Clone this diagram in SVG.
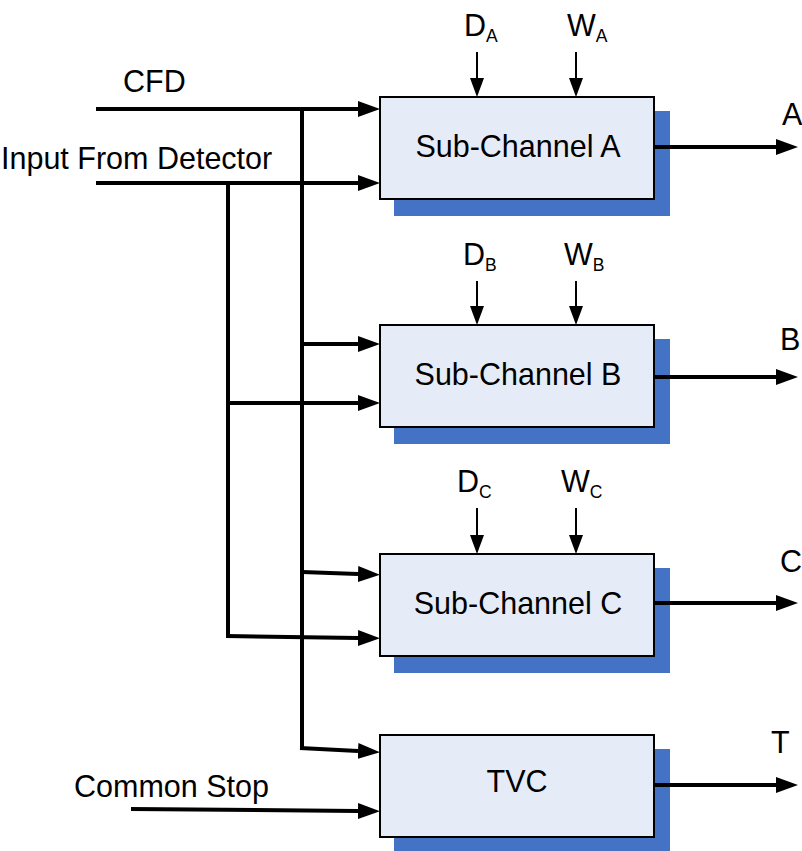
<svg xmlns="http://www.w3.org/2000/svg" width="802" height="851" viewBox="0 0 802 851">
  <style>
    text { font-family: "Liberation Sans", Arial, sans-serif; font-size: 30.5px; fill: #000; }
    .sub { font-size: 17.5px; }
    .box { fill: #E6ECF7; stroke: #000; stroke-width: 2; }
    .shadow { fill: #4472C4; }
    .wire { fill: none; stroke: #000; stroke-width: 4; }
    .thin { fill: none; stroke: #000; stroke-width: 2; }
    .arrow { marker-end: url(#head); }
    .parm { marker-end: url(#headSmall); }
  </style>
  <defs>
    <marker id="head" markerUnits="userSpaceOnUse" markerWidth="24" markerHeight="18" refX="0" refY="8" orient="auto" viewBox="0 0 24 16">
      <path d="M0,0 L22,8 L0,16 z" fill="#000"/>
    </marker>
    <marker id="headSmall" markerUnits="userSpaceOnUse" markerWidth="20" markerHeight="16" refX="0" refY="7" orient="auto" viewBox="0 0 20 14">
      <path d="M0,0 L19,7 L0,14 z" fill="#000"/>
    </marker>
  </defs>
  <rect width="802" height="851" fill="#fff"/>

  <!-- input labels -->
  <text x="123" y="92">CFD</text>
  <text x="1" y="169">Input From Detector</text>
  <text x="74" y="797">Common Stop</text>

  <!-- processing blocks -->
  <g id="subA">
    <rect class="shadow" x="394" y="111" width="276" height="105"/>
    <rect class="box" x="380" y="97" width="274" height="102"/>
    <text x="518" y="157" text-anchor="middle">Sub-Channel A</text>
  </g>
  <g id="subB">
    <rect class="shadow" x="394" y="339" width="276" height="105"/>
    <rect class="box" x="380" y="325" width="274" height="102"/>
    <text x="518" y="385" text-anchor="middle">Sub-Channel B</text>
  </g>
  <g id="subC">
    <rect class="shadow" x="394" y="568" width="276" height="105"/>
    <rect class="box" x="380" y="554" width="274" height="102"/>
    <text x="518" y="614" text-anchor="middle">Sub-Channel C</text>
  </g>
  <g id="tvc">
    <rect class="shadow" x="394" y="749" width="276" height="102"/>
    <rect class="box" x="380" y="735" width="274" height="102"/>
    <text x="517" y="792" text-anchor="middle">TVC</text>
  </g>

  <!-- delay / width parameters -->
  <g id="paramsA">
    <text x="464" y="36">D<tspan class="sub" dy="6">A</tspan></text>
    <text x="567" y="36">W<tspan class="sub" dy="6">A</tspan></text>
  </g>
  <g id="paramsB">
    <text x="463" y="265">D<tspan class="sub" dy="6">B</tspan></text>
    <text x="564" y="265">W<tspan class="sub" dy="6">B</tspan></text>
  </g>
  <g id="paramsC">
    <text x="457" y="492">D<tspan class="sub" dy="6">C</tspan></text>
    <text x="561" y="492">W<tspan class="sub" dy="6">C</tspan></text>
  </g>

  <!-- output labels -->
  <text x="782" y="125">A</text>
  <text x="780" y="350">B</text>
  <text x="780" y="572">C</text>
  <text x="771" y="753">T</text>

  <g id="connectors">
    <!-- CFD bus -->
    <path class="wire" d="M96,109 H302 V748"/>
    <!-- detector bus -->
    <path class="wire" d="M96,183 H228 V636"/>

    <!-- block inputs -->
    <line class="wire arrow" x1="96" y1="109" x2="358" y2="109"/>
    <line class="wire arrow" x1="96" y1="183" x2="358" y2="183"/>
    <line class="wire arrow" x1="302" y1="344" x2="358" y2="344"/>
    <line class="wire arrow" x1="226" y1="403" x2="358" y2="403"/>
    <line class="wire arrow" x1="302" y1="572" x2="358" y2="574"/>
    <line class="wire arrow" x1="226" y1="636" x2="358" y2="638"/>
    <line class="wire arrow" x1="300" y1="748" x2="358" y2="751"/>
    <line class="wire arrow" x1="131" y1="809" x2="358" y2="811"/>

    <!-- parameter inputs -->
    <line class="thin parm" x1="477" y1="52" x2="477" y2="78"/>
    <line class="thin parm" x1="576" y1="52" x2="576" y2="78"/>
    <line class="thin parm" x1="477" y1="281" x2="477" y2="306"/>
    <line class="thin parm" x1="576" y1="281" x2="576" y2="306"/>
    <line class="thin parm" x1="477" y1="508" x2="477" y2="535"/>
    <line class="thin parm" x1="576" y1="508" x2="576" y2="535"/>

    <!-- block outputs -->
    <line class="wire arrow" x1="654" y1="147" x2="776" y2="147"/>
    <line class="wire arrow" x1="654" y1="377" x2="776" y2="377"/>
    <line class="wire arrow" x1="654" y1="603" x2="776" y2="603"/>
    <line class="wire arrow" x1="654" y1="785" x2="776" y2="785"/>
  </g>
</svg>
